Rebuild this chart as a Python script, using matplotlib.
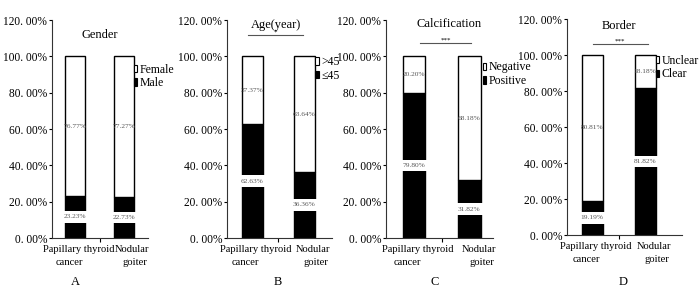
import matplotlib
matplotlib.use('Agg')
import matplotlib.pyplot as plt
from matplotlib.patches import Patch

plt.rcParams['font.family'] = ['Liberation Serif', 'DejaVu Serif']

groups_line1 = ['Papillary thyroid', 'Nodular']
groups_line2 = ['cancer', 'goiter']
titles = ['Gender', 'Age(year)', 'Calcification', 'Border']
letters = ['A', 'B', 'C', 'D']
dark_names = ['Male', '≤45', 'Positive', 'Clear']
light_names = ['Female', '>45', 'Negative', 'Unclear']
dark_vals = [[23.23, 22.73], [62.63, 36.36], [79.80, 31.82], [19.19, 81.82]]
light_vals = [[76.77, 77.27], [37.37, 63.64], [20.20, 68.18], [80.81, 18.18]]
signif = ['', '*', '***', '***']
yticks = [0, 20, 40, 60, 80, 100, 120]

# layout (figure fractions) and per-panel placement
boxes = [(0.0743, 0.1707, 0.1371, 0.7596),
         (0.3243, 0.1707, 0.1500, 0.7596),
         (0.5514, 0.1707, 0.1529, 0.7596),
         (0.8100, 0.1810, 0.1643, 0.7526)]
xlims = [(0.03, 1.99), (0.024, 2.024), (0.0, 1.923), (0.022, 2.196)]
title_pos = [(1.0, 111.5), (0.95, 117.5), (1.14, 118.0), (1.0, 116.0)]
sig_pos = [None, (0.42, 1.47, 111.7), (0.62, 1.53, 107.3), (0.51, 1.55, 106.1)]
leg_pos = [(0.85, 0.80), (0.84, 0.835), (0.905, 0.81), (0.77, 0.835)]
letter_x = [75, 278, 435, 623]
# horizontal shift of the category label lines (data units)
line1_dx = [0.07, 0.17]
line2_dx = [-0.12, 0.22]

fig = plt.figure(figsize=(7, 2.87), dpi=100)
x = [0.5, 1.5]
w = 0.4

for i in range(4):
    ax = fig.add_axes(boxes[i])
    d = dark_vals[i]
    l = light_vals[i]
    ax.bar(x, d, w, color='black', edgecolor='black', linewidth=1.0)
    ax.bar(x, l, w, bottom=d, color='white', edgecolor='black', linewidth=1.0)
    for j in range(2):
        ax.text(x[j], d[j] / 2, '%.2f%%' % d[j], ha='center', va='center',
                fontsize=5.3, color='#555555',
                bbox=dict(boxstyle='square,pad=0.45', fc='white', ec='none'))
        ax.text(x[j], d[j] + l[j] / 2, '%.2f%%' % l[j], ha='center', va='center',
                fontsize=5.3, color='#555555')
        ax.annotate(groups_line1[j], (x[j] + line1_dx[j], 0),
                    xycoords=('data', 'axes fraction'), xytext=(0, -8.5),
                    textcoords='offset points', ha='center', va='center',
                    fontsize=7.6, annotation_clip=False)
        ax.annotate(groups_line2[j], (x[j] + line2_dx[j], 0),
                    xycoords=('data', 'axes fraction'), xytext=(0, -17.5),
                    textcoords='offset points', ha='center', va='center',
                    fontsize=7.6, annotation_clip=False)
    ax.set_xlim(*xlims[i])
    ax.set_ylim(0, 120)
    ax.set_yticks(yticks)
    ax.set_yticklabels(['%d. 00%%' % t for t in yticks], fontsize=8.3)
    ax.set_xticks([])
    ax.set_xticks([1.0], minor=True)
    ax.tick_params(axis='x', which='minor', length=3, width=0.8)
    ax.tick_params(axis='y', length=2.5, width=0.8, pad=1)
    for s in ['top', 'right']:
        ax.spines[s].set_visible(False)
    for s in ['left', 'bottom']:
        ax.spines[s].set_linewidth(0.8)
        ax.spines[s].set_color('#333333')
    ax.text(title_pos[i][0], title_pos[i][1], titles[i], ha='center', va='center',
            fontsize=9)
    if sig_pos[i]:
        x0, x1, yy = sig_pos[i]
        ax.plot([x0, x1], [yy, yy], color='#555555', linewidth=0.8, clip_on=False)
        ax.text((x0 + x1) / 2, yy + 0.3, signif[i], ha='center', va='bottom',
                fontsize=5)
    handles = [Patch(facecolor='white', edgecolor='black', linewidth=0.8, label=light_names[i]),
               Patch(facecolor='black', edgecolor='black', linewidth=0.8, label=dark_names[i])]
    ax.legend(handles=handles, loc='upper left', bbox_to_anchor=leg_pos[i],
              frameon=False, fontsize=8.5, handlelength=0.3, handleheight=0.6,
              handletextpad=0.2, labelspacing=0.15, borderpad=0, borderaxespad=0)
    fig.text(letter_x[i] / 700, 1 - 282 / 287, letters[i], ha='center', va='center',
             fontsize=9)

fig.savefig('out.png', dpi=100)
